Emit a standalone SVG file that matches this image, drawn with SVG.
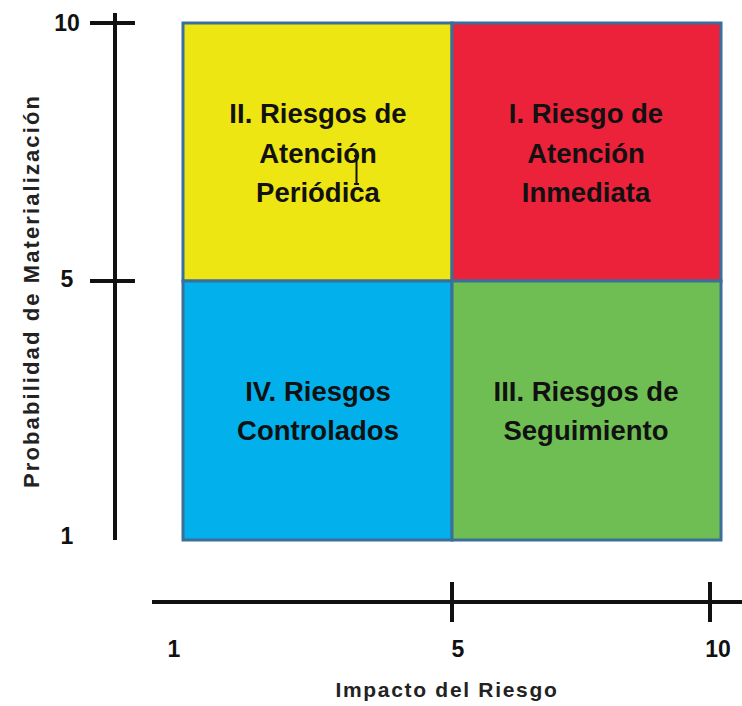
<svg xmlns="http://www.w3.org/2000/svg" width="742" height="706" viewBox="0 0 742 706">
<style>
.cell{stroke:#3a6f9a;stroke-width:3}
.lbl{font-family:"Liberation Sans",Arial,sans-serif;font-weight:bold;font-size:27.5px;fill:#111;text-anchor:middle}
.num{font-family:"Liberation Sans",Arial,sans-serif;font-weight:bold;font-size:23px;fill:#111;text-anchor:middle}
.ax{font-family:"Liberation Sans",Arial,sans-serif;font-weight:bold;font-size:21px;letter-spacing:1.7px;fill:#222;text-anchor:middle}
.axis{stroke:#111;stroke-width:4;fill:none}
</style>
<rect width="742" height="706" fill="#fff"/>
<g id="axes">
<line class="axis" x1="115" y1="13" x2="115" y2="540"/>
<line class="axis" x1="90" y1="23" x2="135" y2="23"/>
<line class="axis" x1="90" y1="281" x2="135" y2="281"/>
<line class="axis" x1="152" y1="602" x2="742" y2="602"/>
<line class="axis" x1="452" y1="582" x2="452" y2="622"/>
<line class="axis" x1="710" y1="582" x2="710" y2="622"/>
<text class="num" x="67" y="31">10</text>
<text class="num" x="67" y="287">5</text>
<text class="num" x="67" y="544">1</text>
<text class="num" x="174" y="657">1</text>
<text class="num" x="458" y="657">5</text>
<text class="num" x="718" y="657">10</text>
<text class="ax" x="447" y="697">Impacto del Riesgo</text>
<text class="ax" style="font-size:22px;letter-spacing:2.1px" transform="translate(39,291) rotate(-90)">Probabilidad de Materialización</text>
</g>
<g id="q2">
<rect class="cell" x="183" y="23" width="269" height="258" fill="#ede613"/>
<text class="lbl" x="318" y="123">II. Riesgos de</text>
<text class="lbl" x="318" y="163">Atención</text>
<text class="lbl" x="318" y="202">Periódica</text>
<path d="M354 156h5M356.5 156v28M354 184h5" stroke="#111" stroke-width="2" fill="none"/>
</g>
<g id="q1">
<rect class="cell" x="452" y="23" width="269" height="258" fill="#ec223b"/>
<text class="lbl" x="586" y="123">I. Riesgo de</text>
<text class="lbl" x="586" y="163">Atención</text>
<text class="lbl" x="586" y="202">Inmediata</text>
</g>
<g id="q4">
<rect class="cell" x="183" y="281" width="269" height="259" fill="#02b0ec"/>
<text class="lbl" x="318" y="401">IV. Riesgos</text>
<text class="lbl" x="318" y="440">Controlados</text>
</g>
<g id="q3">
<rect class="cell" x="452" y="281" width="269" height="259" fill="#6fbe53"/>
<text class="lbl" x="586" y="401">III. Riesgos de</text>
<text class="lbl" x="586" y="440">Seguimiento</text>
</g>
</svg>
